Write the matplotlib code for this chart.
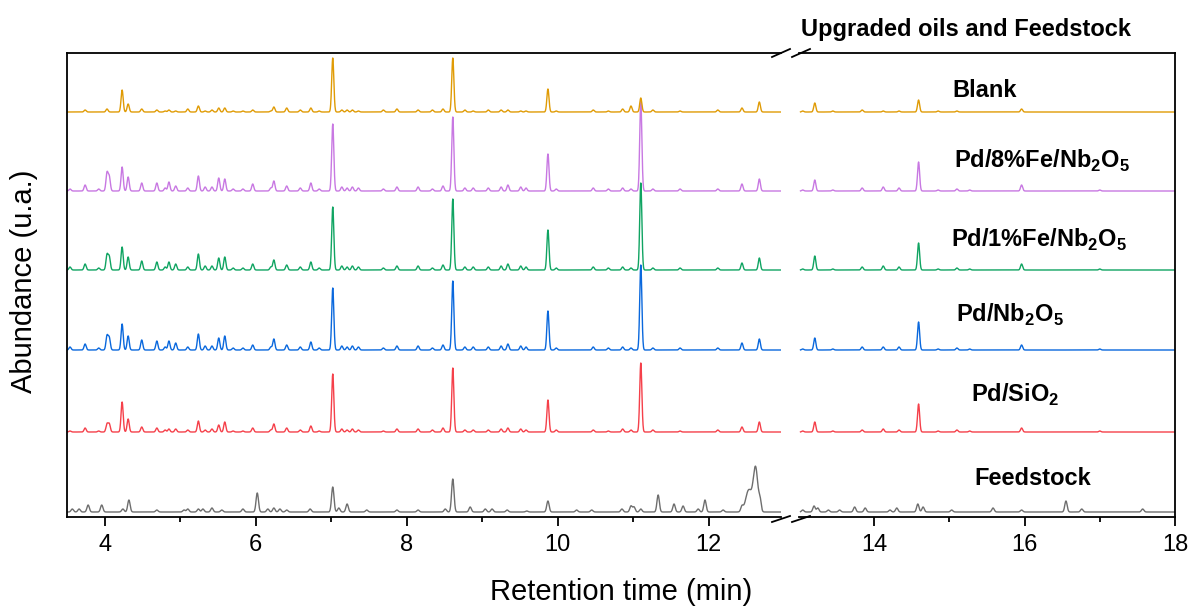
import numpy as np
import matplotlib
matplotlib.use('Agg')
from matplotlib import pyplot as plt
from matplotlib.lines import Line2D
from matplotlib.ticker import MultipleLocator

plt.rcParams['font.family'] = ['Liberation Sans', 'DejaVu Sans']
plt.rcParams['mathtext.fontset'] = 'custom'
plt.rcParams['mathtext.rm'] = 'Liberation Sans'
plt.rcParams['mathtext.bf'] = 'Liberation Sans:bold'

# sample names, bottom to top
labels = ['Feedstock',
          r'Pd/SiO$_\mathbf{2}$',
          r'Pd/Nb$_\mathbf{2}$O$_\mathbf{5}$',
          r'Pd/1%Fe/Nb$_\mathbf{2}$O$_\mathbf{5}$',
          r'Pd/8%Fe/Nb$_\mathbf{2}$O$_\mathbf{5}$',
          'Blank']
colors = ['#6e6e6e', '#f5404a', '#0a68dd', '#10a462', '#c878e2', '#e09b05']

# peak retention times (min) shared by the upgraded oils
oil_rt_left = [3.54, 3.74, 3.92, 4.03, 4.06, 4.23, 4.31, 4.49, 4.69, 4.80,
               4.85, 4.94, 5.10, 5.24, 5.33, 5.42, 5.51, 5.59, 5.70, 5.83,
               5.96, 6.20, 6.24, 6.41, 6.59, 6.73, 6.84, 7.02, 7.14, 7.21,
               7.28, 7.36, 7.69, 7.87, 8.15, 8.34, 8.48, 8.61, 8.77, 8.88,
               9.08, 9.25, 9.34, 9.51, 9.58, 9.87, 9.98, 10.47, 10.67, 10.86,
               10.97, 11.10, 11.26, 11.62, 12.12, 12.44, 12.67]
oil_rt_right = [13.05, 13.21, 13.45, 13.84, 14.12, 14.33, 14.59, 14.85,
                15.10, 15.27, 15.96, 17.00]

# peak heights (abundance, a.u.)
red_left = [1, 4, 1, 8, 8, 30, 13, 5, 4, 2, 3, 3, 2, 11, 2, 3, 7, 10, 1, 1,
            4, 2, 8, 4, 2, 6, 1, 58, 3, 2, 3, 2, 1, 3, 3, 2, 4, 64, 2, 2,
            2, 3, 4, 3, 2, 32, 2, 2, 1, 3, 2, 69, 2, 1, 2, 5, 10]
blue_left = [3, 6, 2, 14, 12, 26, 14, 10, 9, 3, 9, 7, 3, 16, 4, 4, 12, 14, 2, 2,
             5, 3, 11, 5, 3, 8, 2, 62, 4, 3, 4, 3, 2, 4, 4, 2, 5, 69, 3, 3,
             3, 4, 6, 4, 3, 39, 2, 3, 2, 3, 2, 85, 2, 2, 2, 7, 11]
green_left = [3, 6, 2, 15, 13, 23, 13, 9, 8, 3, 8, 6, 3, 16, 4, 4, 12, 13, 2, 2,
              6, 3, 10, 5, 3, 8, 2, 63, 4, 3, 4, 3, 2, 4, 4, 2, 5, 71, 3, 3,
              3, 4, 6, 4, 3, 40, 2, 3, 2, 3, 2, 87, 2, 2, 2, 7, 12]
purple_left = [2, 6, 2, 18, 14, 24, 14, 8, 8, 3, 9, 5, 3, 15, 4, 4, 13, 12, 2, 2,
               7, 3, 10, 5, 3, 8, 2, 67, 4, 3, 4, 3, 2, 4, 4, 2, 5, 74, 3, 3,
               3, 4, 6, 4, 3, 37, 2, 3, 2, 3, 2, 90, 2, 2, 2, 7, 12]
blank_left = [0, 2, 0, 3, 0, 22, 8, 3, 2, 1, 2, 1, 3, 6, 1, 2, 4, 4, 1, 1,
              2, 1, 5, 4, 2, 4, 1, 54, 2, 2, 2, 1, 2, 3, 2, 2, 3, 54, 2, 1,
              2, 2, 2, 1, 1, 23, 1, 2, 1, 3, 6, 14, 2, 1, 2, 4, 10]

red_right = [1, 10, 1, 2, 3, 2, 28, 1, 2, 1, 4, 1]
blue_right = [1, 12, 1, 3, 3, 3, 28, 1, 2, 1, 5, 1]
green_right = [1, 14, 1, 3, 4, 3, 27, 1, 2, 1, 6, 1]
purple_right = [1, 11, 1, 3, 4, 3, 29, 1, 2, 1, 6, 1]
blank_right = [1, 9, 1, 2, 1, 1, 12, 1, 1, 0, 3, 0]

# feedstock peaks
feed_rt_left = [3.57, 3.66, 3.78, 3.96, 4.24, 4.32, 4.69, 5.05, 5.10, 5.24,
                5.30, 5.42, 5.55, 5.83, 6.02, 6.16, 6.24, 6.32, 6.41, 6.72,
                7.02, 7.10, 7.21, 7.47, 7.87, 8.15, 8.51, 8.61, 8.84, 9.04,
                9.13, 9.33, 9.59, 9.87, 10.25, 10.45, 10.85, 10.97, 11.01, 11.10,
                11.33, 11.54, 11.66, 11.86, 11.95, 12.19, 12.44]
feed_h_left = [3, 3, 7, 7, 3, 12, 2, 2, 3, 3, 3, 4, 2, 3, 19, 3, 4, 3, 2, 3,
               25, 4, 8, 2, 2, 2, 3, 33, 5, 3, 3, 2, 1, 11, 2, 2, 3, 6, 5, 3,
               17, 8, 6, 3, 12, 2, 5]
# broad hump near 12.6 min
feed_hump_rt = [12.53, 12.62, 12.68]
feed_hump_h = [22, 44, 10]
feed_hump_w = [0.04, 0.03, 0.015]
feed_rt_right = [13.05, 13.20, 13.25, 13.39, 13.54, 13.74, 13.88, 14.21, 14.30,
                 14.58, 14.65, 15.03, 15.58, 15.96, 16.55, 16.76, 17.57]
feed_h_right = [2, 6, 4, 2, 2, 5, 4, 2, 4, 8, 5, 2, 4, 2, 11, 3, 3]


def chrom(t, rts, hs, w):
    y = np.zeros_like(t)
    ws = w if np.ndim(w) else [w] * len(rts)
    for r, h, s in zip(rts, hs, ws):
        y += h * np.exp(-0.5 * ((t - r) / s) ** 2)
    return y


tL = np.arange(3.5, 12.956, 0.002)
tR = np.arange(13.02, 18.0, 0.002)

left_traces = [chrom(tL, feed_rt_left, feed_h_left, 0.016) + chrom(tL, feed_hump_rt, feed_hump_h, feed_hump_w),
               chrom(tL, oil_rt_left, red_left, 0.014),
               chrom(tL, oil_rt_left, blue_left, 0.014),
               chrom(tL, oil_rt_left, green_left, 0.014),
               chrom(tL, oil_rt_left, purple_left, 0.014),
               chrom(tL, oil_rt_left, blank_left, 0.014)]
right_traces = [chrom(tR, feed_rt_right, feed_h_right, 0.016),
                chrom(tR, oil_rt_right, red_right, 0.014),
                chrom(tR, oil_rt_right, blue_right, 0.014),
                chrom(tR, oil_rt_right, green_right, 0.014),
                chrom(tR, oil_rt_right, purple_right, 0.014),
                chrom(tR, oil_rt_right, blank_right, 0.014)]

offsets = [0, 80, 162, 242, 321, 400]

W, H = 1190, 606
fig = plt.figure(figsize=(W / 100, H / 100), dpi=100)
ax1 = fig.add_axes([67 / W, 1 - 517 / H, (781 - 67) / W, 464 / H])
ax2 = fig.add_axes([799 / W, 1 - 517 / H, (1175 - 799) / W, 464 / H])

for i in range(6):
    ax1.plot(tL, left_traces[i] + offsets[i], color=colors[i], lw=1.0)
    ax2.plot(tR, right_traces[i] + offsets[i], color=colors[i], lw=1.0)

ax1.set_xlim(3.5, 12.957)
ax2.set_xlim(13.0, 18.0)
for ax in (ax1, ax2):
    ax.set_ylim(-5, 459)
    ax.set_yticks([])
    ax.xaxis.set_major_locator(MultipleLocator(2))
    ax.xaxis.set_minor_locator(MultipleLocator(1))
    ax.tick_params(axis='x', which='major', direction='out', length=6.5, width=1.3,
                   labelsize=17, pad=6)
    ax.tick_params(axis='x', which='minor', direction='out', length=3.5, width=1.3)
    for s in ax.spines.values():
        s.set_linewidth(1.3)
ax1.spines['right'].set_visible(False)
ax2.spines['left'].set_visible(False)
ax2.xaxis.set_minor_locator(matplotlib.ticker.FixedLocator([15, 17]))

# break marks
for y0, y1 in ((57, 49), (522, 516)):
    for x0, x1 in ((772, 790), (792, 810)):
        fig.add_artist(Line2D([x0 / W, x1 / W], [1 - y0 / H, 1 - y1 / H],
                              color='black', lw=1.3))

# sample labels
label_x = [16.11, 15.87, 15.80, 16.19, 16.23, 15.47]
label_y = [27, 110, 190, 265, 344, 415]
for i in range(6):
    ax2.text(label_x[i], label_y[i], labels[i], ha='center', va='baseline',
             fontsize=17, fontweight='bold')
ax2.text(15.22, 476, 'Upgraded oils and Feedstock', ha='center', va='baseline',
         fontsize=17, fontweight='bold')

fig.text(621 / W, 1 - 592 / H, 'Retention time (min)', ha='center', va='center', fontsize=21)
fig.text(24 / W, 1 - 281 / H, 'Abundance (u.a.)', ha='center', va='center',
         rotation=90, fontsize=21)

plt.savefig('out.png', dpi=100)
